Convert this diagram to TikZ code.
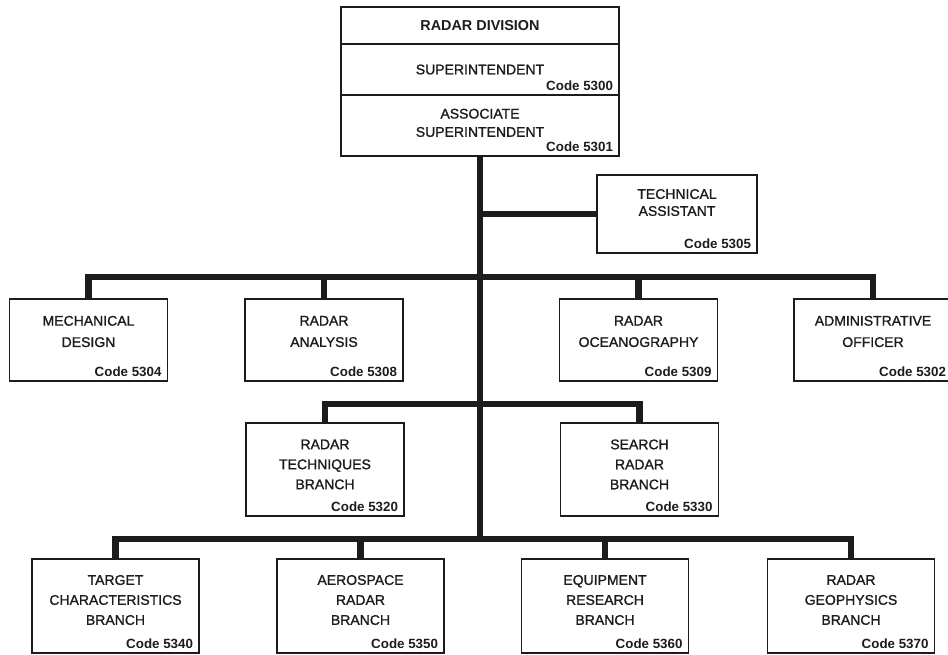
\documentclass[tikz,border=0pt]{standalone}
\usepackage{fontspec}
\setmainfont{Liberation Sans}
\newfontface\medface{Liberation Sans}[FakeBold=1.2]
\usepackage{tikz}
\usetikzlibrary{positioning}
\definecolor{ink}{HTML}{1C1C1C}

\begin{document}
\begin{tikzpicture}[
    x=0.75pt, y=-0.75pt,
    box/.style={rectangle, draw=ink, line width=1.3pt, fill=white},
    topbox/.style={box, minimum width=208.5pt},
    techbox/.style={box, minimum width=120pt, minimum height=58.5pt},
    rowone/.style={box, minimum width=118.5pt, minimum height=61.5pt},
    rowtwo/.style={box, minimum width=118.5pt, minimum height=69.75pt},
    rowthree/.style={box, minimum width=125.25pt, minimum height=70.5pt},
    txt/.style={font=\medface\fontsize{10.5}{15}\selectfont, text=ink, align=center, inner sep=0pt},
    code/.style={font=\fontsize{10}{11}\selectfont\bfseries, text=ink, inner sep=0pt},
    bar/.style={draw=ink, line width=4.9pt}
]
    \clip (0,0) rectangle (948,654);
    \fill[white] (0,0) rectangle (948,654);

    % --- DIVISION HEADER ---
    \node[topbox, minimum height=27.75pt] (div) at (480, 25.5) {};
    \node[topbox, minimum height=38.25pt] (sup) at (480, 69.5) {};
    \node[topbox, minimum height=45.75pt] (asc) at (480, 125.5) {};
    \node[txt, font=\fontsize{10.8}{15}\selectfont\bfseries] (divT) at (div) {RADAR DIVISION};
    \node[txt] (supT) at (sup) {SUPERINTENDENT};
    \node[code, above left=3.75pt and 5pt of sup.south east] (supC) {Code 5300};
    \node[txt, font=\medface\fontsize{10.5}{13.7}\selectfont] (ascT) at ([yshift=2pt]asc.center) {ASSOCIATE\\SUPERINTENDENT};
    \node[code, above left=3.75pt and 5pt of asc.south east] (ascC) {Code 5301};

    % --- STAFF ---
    \node[techbox] (tech) at (677, 214) {};
    \node[txt, font=\medface\fontsize{10.5}{12.75}\selectfont] (techT) at ([yshift=8.6pt]tech.center) {TECHNICAL\\ASSISTANT};
    \node[code, above left=3.75pt and 5pt of tech.south east] (techC) {Code 5305};

    % --- ROW 1 ---
    \node[rowone] (mech) at (88.5, 340) {};
    \node[rowone] (ana) at (324, 340) {};
    \node[rowone] (oce) at (638.5, 340) {};
    \node[rowone] (adm) at (873, 340) {};
    \node[txt, font=\medface\fontsize{10.5}{16}\selectfont] (mechT) at ([yshift=6.4pt]mech.center) {MECHANICAL\\DESIGN};
    \node[txt, font=\medface\fontsize{10.5}{16}\selectfont] (anaT) at ([yshift=6.4pt]ana.center) {RADAR\\ANALYSIS};
    \node[txt, font=\medface\fontsize{10.5}{16}\selectfont] (oceT) at ([yshift=6.4pt]oce.center) {RADAR\\OCEANOGRAPHY};
    \node[txt, font=\medface\fontsize{10.5}{16}\selectfont] (admT) at ([yshift=6.4pt]adm.center) {ADMINISTRATIVE\\OFFICER};
    \node[code, above left=3.75pt and 5pt of mech.south east] (mechC) {Code 5304};
    \node[code, above left=3.75pt and 5pt of ana.south east] (anaC) {Code 5308};
    \node[code, above left=3.75pt and 5pt of oce.south east] (oceC) {Code 5309};
    \node[code, above left=3.75pt and 5pt of adm.south east] (admC) {Code 5302};

    % --- ROW 2 ---
    \node[rowtwo] (tq) at (325, 469.5) {};
    \node[rowtwo] (sr) at (639.5, 469.5) {};
    \node[txt] (tqT) at ([yshift=3.8pt]tq.center) {RADAR\\TECHNIQUES\\BRANCH};
    \node[txt] (srT) at ([yshift=3.8pt]sr.center) {SEARCH\\RADAR\\BRANCH};
    \node[code, above left=3.75pt and 5pt of tq.south east] (tqC) {Code 5320};
    \node[code, above left=3.75pt and 5pt of sr.south east] (srC) {Code 5330};

    % --- ROW 3 ---
    \node[rowthree] (tgt) at (115.5, 606) {};
    \node[rowthree] (aer) at (360.5, 606) {};
    \node[rowthree] (eqp) at (605, 606) {};
    \node[rowthree] (geo) at (851, 606) {};
    \node[txt] (tgtT) at ([yshift=4.5pt]tgt.center) {TARGET\\CHARACTERISTICS\\BRANCH};
    \node[txt] (aerT) at ([yshift=4.5pt]aer.center) {AEROSPACE\\RADAR\\BRANCH};
    \node[txt] (eqpT) at ([yshift=4.5pt]eqp.center) {EQUIPMENT\\RESEARCH\\BRANCH};
    \node[txt] (geoT) at ([yshift=4.5pt]geo.center) {RADAR\\GEOPHYSICS\\BRANCH};
    \node[code, above left=3.75pt and 5pt of tgt.south east] (tgtC) {Code 5340};
    \node[code, above left=3.75pt and 5pt of aer.south east] (aerC) {Code 5350};
    \node[code, above left=3.75pt and 5pt of eqp.south east] (eqpC) {Code 5360};
    \node[code, above left=3.75pt and 5pt of geo.south east] (geoC) {Code 5370};

    % --- CONNECTORS ---
    \coordinate (bus1) at (480, 277);
    \coordinate (bus2) at (480, 404);
    \coordinate (bus3) at (480, 539);

    \draw[bar] (asc.south) -- (asc.south |- bus3);
    \draw[bar] (asc.south |- tech.west) -- (tech.west);

    \draw[bar] (mech.north) -- (mech.north |- bus1) -- (adm.north |- bus1) -- (adm.north);
    \foreach \n in {ana, oce} {
        \draw[bar] (\n.north) -- (\n.north |- bus1);
    }
    \draw[bar] (tq.north) -- (tq.north |- bus2) -- (sr.north |- bus2) -- (sr.north);
    \draw[bar] (tgt.north) -- (tgt.north |- bus3) -- (geo.north |- bus3) -- (geo.north);
    \foreach \n in {aer, eqp} {
        \draw[bar] (\n.north) -- (\n.north |- bus3);
    }

\end{tikzpicture}
\end{document}
